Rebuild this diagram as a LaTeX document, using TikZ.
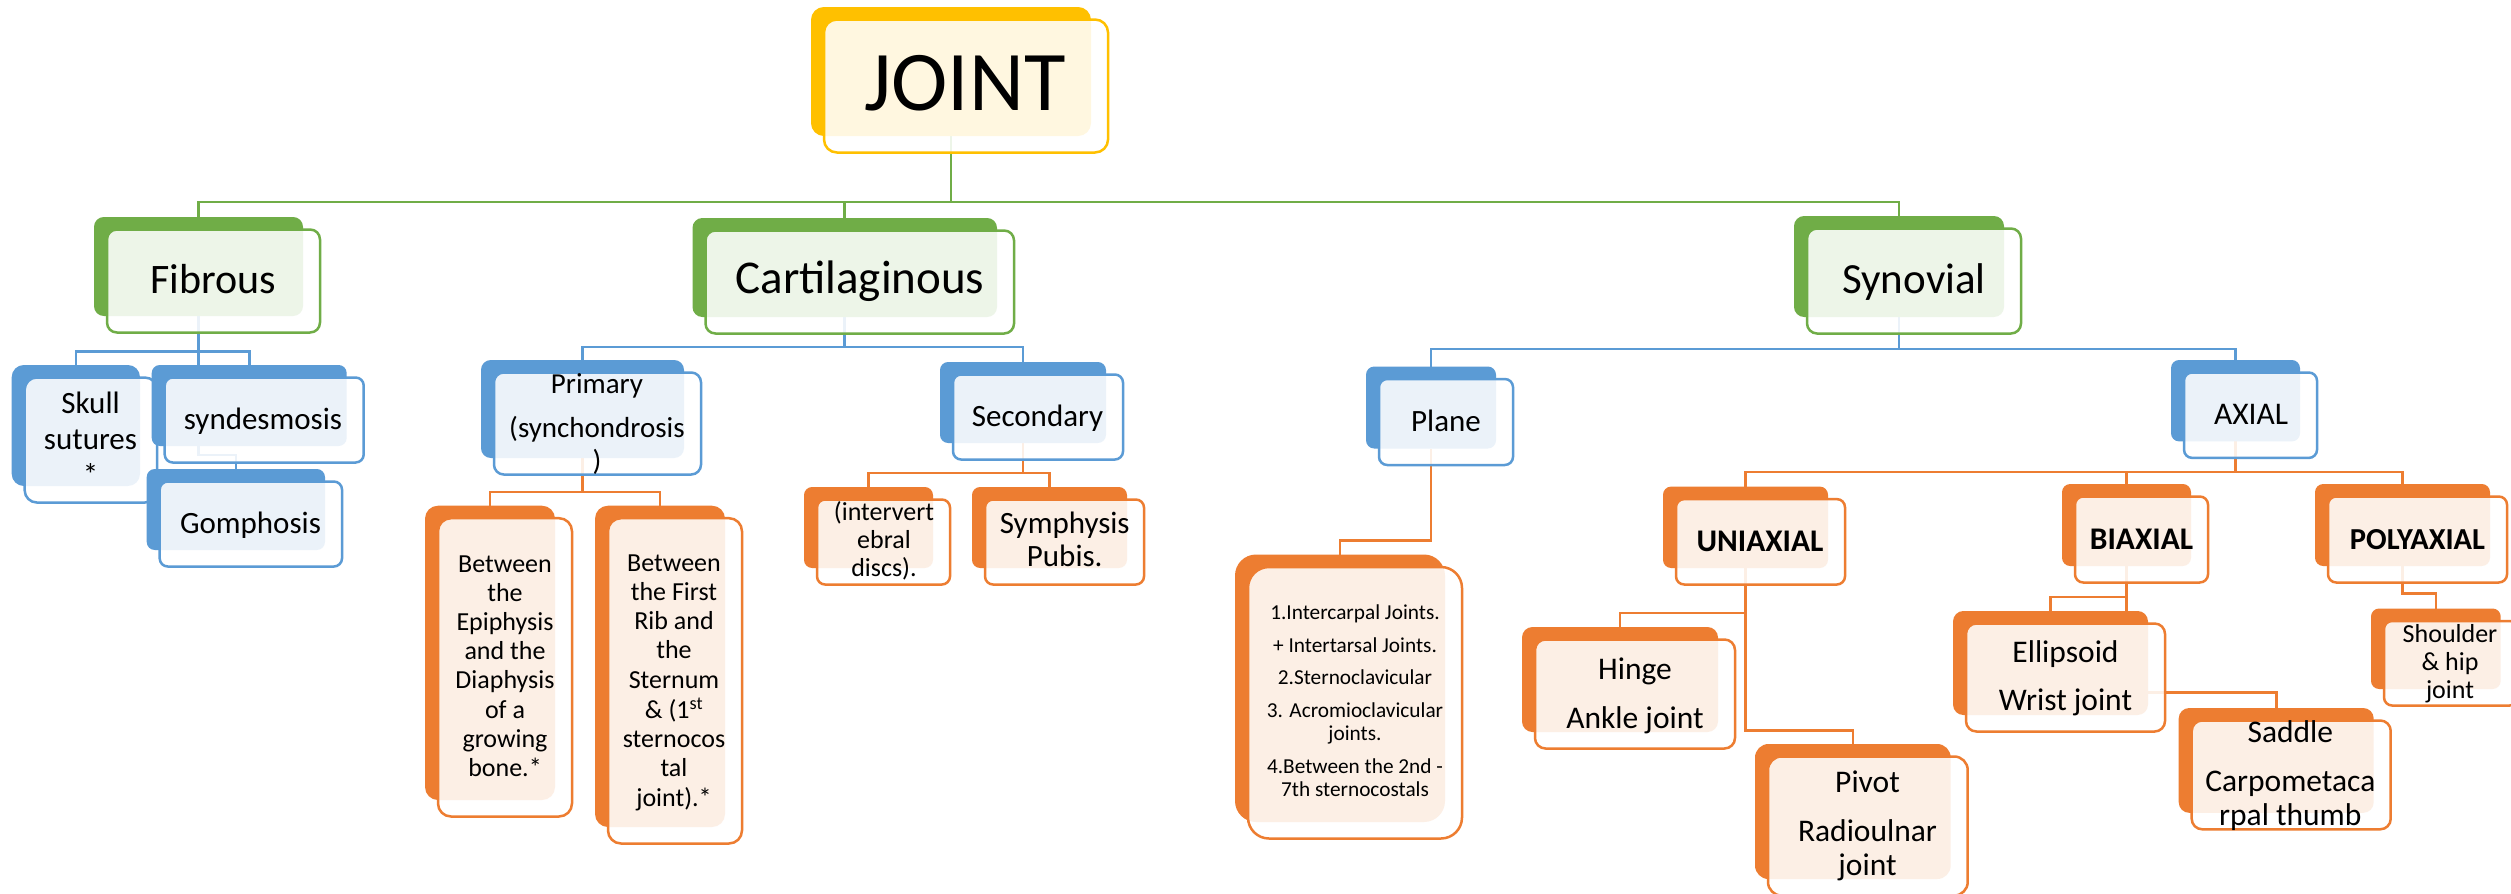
\documentclass[tikz,border=0pt]{standalone}
\usepackage{fontspec}
\setmainfont{Carlito}
\definecolor{cgreen}{HTML}{70AD47}
\definecolor{cblue}{HTML}{5B9BD5}
\definecolor{corange}{HTML}{ED7D31}
\definecolor{cyellow}{HTML}{FFC000}
\pgfdeclarelayer{bg}
\pgfsetlayers{bg,main}
\tikzset{
  backbox/.style={rectangle, fill=#1, draw=none, inner sep=0pt, outer sep=0pt},
  frontbox/.style={rectangle, draw=#1, line width=2.5pt, fill=white, fill opacity=0.88, draw opacity=1, inner sep=0pt, outer sep=0pt},
  conn/.style={draw=#1, line width=2.6pt},
  txt/.style={inner sep=0pt, outer sep=0pt, align=center, text=black},
}
\newcommand\dbox[6]{%
  \pgfmathsetmacro\dbW{#5-#3}%
  \pgfmathsetmacro\dbH{#6-#4}%
  \pgfmathsetmacro\dbR{0.1*min(\dbW,\dbH)}%
  \pgfmathsetmacro\dbX{(#3+#5)/2}%
  \pgfmathsetmacro\dbY{(#4+#6)/2}%
  \node[backbox=#2, minimum width=\dbW pt, minimum height=\dbH pt, rounded corners=\dbR pt] (#1b) at (\dbX,\dbY) {};
  \node[frontbox=#2, minimum width=\dbW pt+4pt, minimum height=\dbH pt+4pt, rounded corners=\dbR pt] (#1f) at (\dbX+15,\dbY+14.5) {};
}
\begin{document}
\begin{tikzpicture}[x=1pt,y=-1pt]
\begin{pgfonlayer}{bg}
\fill[white] (0,0) rectangle (2511,894);
\end{pgfonlayer}
\useasboundingbox (0,0) rectangle (2511,894);

% ---------- boxes ----------
\dbox{joint}{cyellow}{811}{7}{1091}{136}
\dbox{fib}{cgreen}{94}{217}{303}{316}
\dbox{cart}{cgreen}{692.5}{218}{997}{317}
\dbox{syn}{cgreen}{1794}{216}{2004}{317}
\dbox{sku}{cblue}{11.7}{365}{140}{486}
\dbox{sds}{cblue}{151.7}{365}{346.7}{446}
\dbox{gom}{cblue}{146.7}{469}{325}{550}
\dbox{pri}{cblue}{481}{360}{684}{458}
\dbox{sec}{cblue}{940}{362}{1106}{443}
\dbox{ivd}{corange}{804}{487}{933}{568}
\dbox{sym}{corange}{972}{487}{1127}{568}
\dbox{pca}{corange}{425}{505.7}{555}{800}
\dbox{pcb}{corange}{595}{505.7}{725}{827}
\dbox{pla}{cblue}{1366}{366.5}{1496}{448.5}
\dbox{lst}{corange}{1235}{554.5}{1445}{822}
\dbox{axi}{cblue}{2171}{360}{2300}{441.4}
\dbox{uni}{corange}{1663}{486.6}{1828}{568}
\dbox{bia}{corange}{2062}{484}{2191}{566}
\dbox{pol}{corange}{2315}{484}{2490}{566}
\dbox{hin}{corange}{1522}{627}{1718}{732}
\dbox{ell}{corange}{1953}{611}{2148}{715}
\dbox{sad}{corange}{2178.7}{708}{2373.7}{812.8}
\dbox{piv}{corange}{1755}{744}{1950.7}{879}
\dbox{sho}{corange}{2371}{608.5}{2500.7}{689}

% ---------- connectors (behind boxes) ----------
\begin{pgfonlayer}{bg}
\draw[conn=cgreen] (jointb.south) -- (jointb.south |- 0,202) -| (fibb.north);
\draw[conn=cgreen] (jointb.south) -- (jointb.south |- 0,202) -| (cartb.north);
\draw[conn=cgreen] (jointb.south) -- (jointb.south |- 0,202) -| (synb.north);
\draw[conn=cblue] (fibb.south) -- (fibb.south |- 0,351.7) -| (skub.north);
\draw[conn=cblue] (fibb.south) -- (fibb.south |- 0,351.7) -| (sdsb.north);
\draw[conn=cblue] (fibb.south) -- (fibb.south |- 0,455) -| (gomb.north);
\draw[conn=cblue] (cartb.south) -- (cartb.south |- 0,347) -| (prib.north);
\draw[conn=cblue] (cartb.south) -- (cartb.south |- 0,347) -| (secb.north);
\draw[conn=cblue] (synb.south) -- (synb.south |- 0,349) -| (plab.north);
\draw[conn=cblue] (synb.south) -- (synb.south |- 0,349) -| (axib.north);
\draw[conn=corange] (prib.south) -- (prib.south |- 0,492) -| (pcab.north);
\draw[conn=corange] (prib.south) -- (prib.south |- 0,492) -| (pcbb.north);
\draw[conn=corange] (secb.south) -- (secb.south |- 0,473) -| (ivdb.north);
\draw[conn=corange] (secb.south) -- (secb.south |- 0,473) -| (symb.north);
\draw[conn=corange] (plab.south) -- (plab.south |- 0,540.7) -| (lstb.north);
\draw[conn=corange] (axib.south) -- (axib.south |- 0,472) -| (unib.north);
\draw[conn=corange] (axib.south) -- (axib.south |- 0,472) -| (biab.north);
\draw[conn=corange] (axib.south) -- (axib.south |- 0,472) -| (polb.north);
\draw[conn=corange] (unib.south) -- (unib.south |- 0,612.8) -| (hinb.north);
\draw[conn=corange] (unib.south) -- (unib.south |- 0,730.5) -| (pivb.north);
\draw[conn=corange] (biab.south) -- (biab.south |- 0,597) -| (ellb.north);
\draw[conn=corange] (biab.south) -- (biab.south |- 0,692.6) -| (sadb.north);
\draw[conn=corange] (polb.south) -- (polb.south |- 0,593.7) -| (shob.north);
\end{pgfonlayer}

% ---------- texts ----------
\node[txt, font=\fontsize{85}{102}\selectfont] (jointt) at (965,89.6) {\strut JOINT};
\node[txt, font=\fontsize{42}{50.4}\selectfont] (fibt) at (213,283.2) {\strut Fibrous};
\node[txt, font=\fontsize{47}{56.4}\selectfont] (cartt) at (860,282.7) {\strut Cartilaginous};
\node[txt, font=\fontsize{43}{51.6}\selectfont] (synt) at (1914,283) {\strut Synovial};
\node[txt, font=\fontsize{31}{36}\selectfont] (skut) at (90.5,442) {\strut Skull\\\strut sutures\\\strut *};
\node[txt, font=\fontsize{31}{37.2}\selectfont] (sdst) at (263,421.9) {\strut syndesmosis};
\node[txt, font=\fontsize{31}{37.2}\selectfont] (gomt) at (250.5,526) {\strut Gomphosis};
\node[txt, font=\fontsize{29}{33}\selectfont] (prit) at (597,425.4) {\strut Primary\\[11pt]\strut (synchondrosis\\\strut )};
\node[txt, font=\fontsize{31}{37.2}\selectfont] (sect) at (1037.5,419.3) {\strut Secondary};
\node[txt, font=\fontsize{26}{28.3}\selectfont] (ivdt) at (884,542.7) {\strut (intervert\\\strut ebral\\\strut discs).};
\node[txt, font=\fontsize{31}{33.4}\selectfont] (symt) at (1064.75,543.3) {\strut Symphysis\\\strut Pubis.};
\node[txt, font=\fontsize{26}{29.2}\selectfont] (pcat) at (505,668.4) {\strut Between\\\strut the\\\strut Epiphysis\\\strut and the\\\strut Diaphysis\\\strut of a\\\strut growing\\\strut bone.*};
\node[txt, font=\fontsize{26}{29.25}\selectfont] (pcbt) at (674,682.85) {\strut Between\\\strut the First\\\strut Rib and\\\strut the\\\strut Sternum\\\strut \& (1\textsuperscript{st}\\\strut sternocos\\\strut tal\\\strut joint).*};
\node[txt, font=\fontsize{31}{37.2}\selectfont] (plat) at (1446,424.5) {\strut Plane};
\node[txt, font=\fontsize{21.3}{23.3}\selectfont] (lstt) at (1355,703.6) {\strut 1.Intercarpal Joints.\\[9.3pt]\strut + Intertarsal Joints.\\[9.3pt]\strut 2.Sternoclavicular\\[9.3pt]\strut 3. Acromioclavicular\\\strut joints.\\[9.3pt]\strut 4.Between the 2nd -\\\strut 7th sternocostals};
\node[txt, font=\fontsize{31.5}{37.8}\selectfont] (axit) at (2251,417.2) {\strut AXIAL};
\node[txt, font=\fontsize{31.5}{37.8}\selectfont\bfseries] (unit) at (1760,544.4) {\strut UNIAXIAL};
\node[txt, font=\fontsize{31.5}{37.8}\selectfont\bfseries] (biat) at (2141.5,541.6) {\strut BIAXIAL};
\node[txt, font=\fontsize{30.5}{37.8}\selectfont\bfseries] (polt) at (2417.5,541.6) {\strut POLYAXIAL};
\node[txt, font=\fontsize{31.5}{38}\selectfont] (hint) at (1635,696) {\strut Hinge\\[10.8pt]\strut Ankle joint};
\node[txt, font=\fontsize{31.5}{33.3}\selectfont] (pivt) at (1867.5,827.2) {\strut Pivot\\[15.7pt]\strut Radioulnar\\\strut joint};
\node[txt, font=\fontsize{31.5}{38}\selectfont] (ellt) at (2065.5,679) {\strut Ellipsoid\\[10.7pt]\strut Wrist joint};
\node[txt, font=\fontsize{31.5}{34.3}\selectfont] (sadt) at (2290.3,777.1) {\strut Saddle\\[15.2pt]\strut Carpometaca\\\strut rpal thumb};
\node[txt, font=\fontsize{26}{28.3}\selectfont] (shot) at (2450,664.7) {\strut Shoulder\\\strut \& hip\\\strut joint};
\end{tikzpicture}
\end{document}
